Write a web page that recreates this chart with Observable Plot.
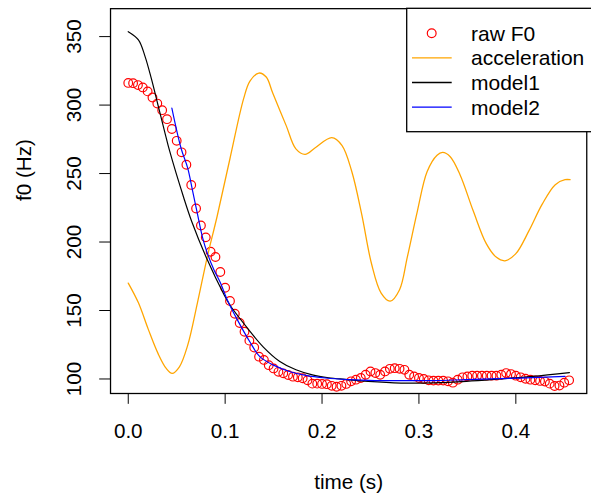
<!DOCTYPE html>
<html>
<head>
<meta charset="utf-8">
<script src="https://cdn.jsdelivr.net/npm/d3@7"></script>
<script src="https://cdn.jsdelivr.net/npm/@observablehq/plot@0.6"></script>
<style>
  html, body { margin: 0; padding: 0; background: white; }
  #wrap { position: relative; width: 591px; height: 496px; overflow: hidden; }
  #legend { position: absolute; left: 0; top: 0; pointer-events: none; }
</style>
</head>
<body>
<div id="wrap"></div>
<script>
// ---- data ----
const rawTime = [0,0.005,0.01,0.015,0.02,0.025,0.03,0.035,0.04,0.045,0.05,0.055,0.06,0.065,0.07,0.075,0.08,0.085,0.09,0.095,
  0.1,0.105,0.11,0.115,0.12,0.125,0.13,0.135,0.14,0.145,0.15,0.155,0.16,0.165,0.17,0.175,0.18,0.185,0.19,0.195,
  0.2,0.205,0.21,0.215,0.22,0.225,0.23,0.235,0.24,0.245,0.25,0.255,0.26,0.265,0.27,0.275,0.28,0.285,0.29,0.295,
  0.3,0.305,0.31,0.315,0.32,0.325,0.33,0.335,0.34,0.345,0.35,0.355,0.36,0.365,0.37,0.375,0.38,0.385,0.39,0.395,
  0.4,0.405,0.41,0.415,0.42,0.425,0.43,0.435,0.44,0.445,0.45,0.455];
const rawF0 = [316.2,316.0,314.6,312.9,310.0,305.5,301.1,296.3,289.7,282.5,273.9,265.5,256.4,241.7,224.5,212.1,203.4,192.9,189.1,178.1,
  166.6,157.0,147.6,140.9,134.5,128.0,123.0,116.3,113.9,110.1,107.7,105.2,104.1,102.9,101.7,101.2,100.5,99.1,96.6,96.6,
  96.4,96.2,95.0,94.3,95.0,96.4,98.3,99.5,100.7,103.1,105.5,104.3,103.1,105.5,107.4,107.9,107.4,106.7,103.1,101.9,
  100.7,100.0,99.0,98.8,98.8,98.8,98.3,97.3,99.5,101.2,101.9,102.4,102.4,102.4,102.4,102.4,102.4,103.1,104.3,103.6,
  102.4,101.2,100.2,99.5,99.0,98.6,98.1,96.6,94.9,95.2,97.3,99.0];

const accTime = [0,0.0105,0.0206,0.0308,0.0392,0.0453,0.0528,0.0613,0.0714,0.0816,0.0918,0.105,0.119,0.1256,0.1348,0.1424,0.149,0.163,0.173,0.1825,0.193,0.21,
  0.2205,0.2307,0.2409,0.251,0.261,0.2703,0.28,0.288,0.2984,0.3085,0.3187,0.3245,0.3323,0.3425,0.356,0.3695,0.3797,0.3888,0.4,0.4136,
  0.4271,0.4407,0.4508,0.456];
const accValue = [170,155.6,136.4,118.5,107.7,104.1,108.9,124.5,155.6,189.2,219,261,304.5,317.5,323.4,320.5,309,285,268,264,268.8,276.2,
  270.6,251.5,220.3,184.3,162.7,156.8,165.2,189,222.6,251.5,263.4,265.4,262.3,249,222.8,198.8,189,186.3,191.5,208.3,
  227.5,241.9,245.5,245.5];

const model1Time = [0,0.0105,0.0173,0.024,0.0308,0.0376,0.0427,0.0572,0.0655,0.0816,0.0985,0.1049,0.122,0.1392,0.156,0.1731,0.19,0.2069,
  0.2239,0.2476,0.2815,0.3153,0.349,0.383,0.417,0.4553];
const model1Value = [353.6,347.6,335.6,318.9,299.7,280.5,266.5,232.5,215,187,162,154,138,123.5,113,106.7,103,100.9,
  99.7,98.2,97.0,97.2,98.3,100,101.9,104.7];

const model2Time = [0.045,0.0545,0.0613,0.0664,0.0714,0.0765,0.0816,0.0884,0.0951,0.1019,0.1121,0.1256,0.1358,0.1494,0.1663,0.1832,0.2036,0.2272,0.2544,0.2849,
  0.3153,0.3489,0.3834,0.417,0.4508];
const model2Value = [297.8,268.5,254.1,237.4,220.5,203.8,191.8,179.8,170.2,158.3,143.9,127,116.3,110.3,105.5,102.6,100.7,99.5,98.8,98.8,
  98.8,99.5,100.2,101,101.9];

const xTicks = [0, 0.1, 0.2, 0.3, 0.4];
const yTicks = [100, 150, 200, 250, 300, 350];
const legendLabels = ["raw F0", "acceleration", "model1", "model2"];
const seriesColors = {raw: "#FF0000", acc: "#FFA500", m1: "#000000", m2: "#0000FF"};

// ---- build tables ----
const rawData = rawTime.map((t, i) => ({t, f: rawF0[i]}));
const accData = accTime.map((t, i) => ({t, f: accValue[i]}));
const m1Data = model1Time.map((t, i) => ({t, f: model1Value[i]}));
const m2Data = model2Time.map((t, i) => ({t, f: model2Value[i]}));

const FONT = "'Liberation Sans', Arial, Helvetica, sans-serif";
const FS = 21;

const chart = Plot.plot({
  width: 600,
  height: 496,
  marginLeft: 111.7,
  marginRight: 4.8,
  marginTop: 8.3,
  marginBottom: 97,
  x: {domain: [-0.0183, 0.4732]},
  y: {domain: [89.4, 370.4]},
  style: {fontFamily: FONT, fontSize: FS + "px", color: "black", background: "white", overflow: "visible"},
  marks: [
    Plot.dot(rawData, {x: "t", y: "f", r: 4.4, stroke: seriesColors.raw, strokeWidth: 1.2, fill: "none"}),
    Plot.line(accData, {x: "t", y: "f", stroke: seriesColors.acc, strokeWidth: 1.3, curve: "catmull-rom"}),
    Plot.line(m1Data, {x: "t", y: "f", stroke: seriesColors.m1, strokeWidth: 1.2, curve: "catmull-rom"}),
    Plot.line(m2Data, {x: "t", y: "f", stroke: seriesColors.m2, strokeWidth: 1.2, curve: "catmull-rom"}),
    Plot.frame({stroke: "black", strokeWidth: 1.3}),
    Plot.axisX({ticks: xTicks, tickSize: 11, tickPadding: 19, tickFormat: d3.format(".1f"), label: null, fontSize: FS}),
    Plot.axisY({ticks: yTicks, tickSize: 11, tickPadding: 19, tickRotate: -90, label: null, fontSize: FS}),
    Plot.text(["time (s)"], {text: d => d, frameAnchor: "bottom", dy: 97, lineAnchor: "bottom", fontSize: FS}),
    Plot.text(["f0 (Hz)"], {text: d => d, frameAnchor: "left", dx: -81, rotate: -90, lineAnchor: "bottom", fontSize: FS})
  ]
});
const wrap = document.getElementById("wrap");
wrap.appendChild(chart);

// ---- legend (R-style boxed legend, top right) ----
const ns = "http://www.w3.org/2000/svg";
const lg = document.createElementNS(ns, "svg");
lg.setAttribute("id", "legend");
lg.setAttribute("width", 591);
lg.setAttribute("height", 496);
lg.style.fontFamily = FONT;
lg.style.fontSize = FS + "px";
const box = document.createElementNS(ns, "rect");
box.setAttribute("x", 406.7); box.setAttribute("y", 8.3);
box.setAttribute("width", 200); box.setAttribute("height", 123.4);
box.setAttribute("fill", "white"); box.setAttribute("stroke", "black"); box.setAttribute("stroke-width", 1.3);
lg.appendChild(box);
const keys = ["raw", "acc", "m1", "m2"];
legendLabels.forEach((lab, i) => {
  const cy = 33.3 + i * 24.6;
  if (keys[i] === "raw") {
    const c = document.createElementNS(ns, "circle");
    c.setAttribute("cx", 431.7); c.setAttribute("cy", cy); c.setAttribute("r", 4.4);
    c.setAttribute("fill", "none"); c.setAttribute("stroke", seriesColors.raw); c.setAttribute("stroke-width", 1.2);
    lg.appendChild(c);
  } else {
    const l = document.createElementNS(ns, "line");
    l.setAttribute("x1", 412); l.setAttribute("x2", 451.7);
    l.setAttribute("y1", cy); l.setAttribute("y2", cy);
    l.setAttribute("stroke", seriesColors[keys[i]]); l.setAttribute("stroke-width", 1.3);
    lg.appendChild(l);
  }
  const t = document.createElementNS(ns, "text");
  t.setAttribute("x", 471); t.setAttribute("y", cy + 7.4);
  t.setAttribute("fill", "black");
  t.textContent = lab;
  lg.appendChild(t);
});
wrap.appendChild(lg);
</script>
</body>
</html>
